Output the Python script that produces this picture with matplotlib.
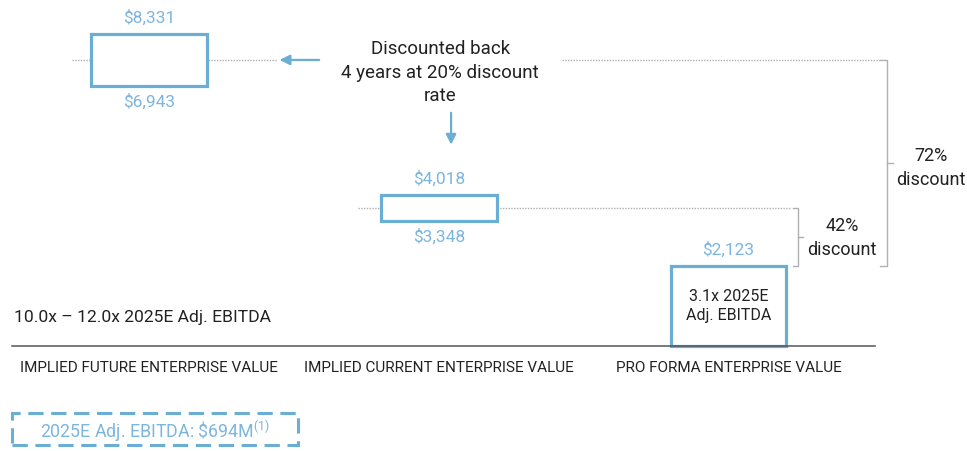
import matplotlib
matplotlib.use('Agg')
import matplotlib.pyplot as plt
from matplotlib.patches import Rectangle

plt.rcParams['font.family'] = ['Roboto', 'DejaVu Sans']
plt.rcParams['mathtext.fontset'] = 'custom'
plt.rcParams['mathtext.rm'] = 'Roboto'

BLUE = '#6aaed6'
LABEL_BLUE = '#7cb6de'
GREY = '#b0b0b0'
DARK = '#222222'

categories = ['IMPLIED FUTURE ENTERPRISE VALUE',
              'IMPLIED CURRENT ENTERPRISE VALUE',
              'PRO FORMA ENTERPRISE VALUE']
lows = [6943, 3348, 0]
highs = [8331, 4018, 2123]
discounts = ['72%\ndiscount', '42%\ndiscount']

fig = plt.figure(figsize=(9.67, 4.51), dpi=100)
ax = fig.add_axes([0, 0, 1, 1])
ax.set_xlim(-0.516, 2.824)
ax.set_ylim(-2803, 9237)
ax.axis('off')

x = list(range(len(categories)))
heights = [h - l for h, l in zip(highs, lows)]
ax.bar(x, heights, bottom=lows, width=0.40, facecolor='white',
       edgecolor=BLUE, linewidth=2.3, zorder=3)

# value labels above and below each box
for i in x:
    ax.annotate('${:,}'.format(highs[i]), (i, highs[i]), xytext=(0, 12),
                textcoords='offset points', ha='center', va='center',
                fontsize=12.5, color=LABEL_BLUE)
    if lows[i] > 0:
        ax.annotate('${:,}'.format(lows[i]), (i, lows[i]), xytext=(0, -11.5),
                    textcoords='offset points', ha='center', va='center',
                    fontsize=12.5, color=LABEL_BLUE)
    ax.annotate(categories[i], (i, 0), xytext=(0, -16),
                textcoords='offset points', ha='center', va='center',
                fontsize=11, color=DARK)

# baseline
ax.plot([-0.475, 2.506], [0, 0], color='#555555', lw=1.1, zorder=4)

mid1 = (highs[0] + lows[0]) / 2
mid2 = (highs[1] + lows[1]) / 2
top3 = highs[2]

# dotted guide lines at the box midpoints
dot = dict(color=GREY, lw=1.0, ls=(0, (1, 1)), zorder=1)
ax.plot([-0.268, 0.44], [mid1, mid1], **dot)
ax.plot([1.425, 2.523], [mid1, mid1], **dot)
ax.plot([0.72, 2.212], [mid2, mid2], **dot)

# arrows
arrow = dict(arrowstyle='-|>,head_length=0.6,head_width=0.3', color=BLUE, lw=1.6)
ax.annotate('', xy=(0.44, mid1), xytext=(0.596, mid1), arrowprops=arrow)
ax.annotate('', xy=(1.042, 5300), xytext=(1.042, 6300), arrowprops=arrow)

ax.text(1.005, 7300, 'Discounted back\n4 years at 20% discount\nrate',
        ha='center', va='center', fontsize=13.5, color=DARK, linespacing=1.42)


def bracket(xb, y_top, y_bot, left, right, text, xt, dy):
    ym = (y_top + y_bot) / 2
    ax.plot([left, xb, xb, left], [y_top, y_top, y_bot, y_bot],
            color=GREY, lw=1.0)
    ax.plot([xb, right], [ym, ym], color=GREY, lw=1.0)
    ax.text(xt, ym + dy, text, ha='center', va='center', fontsize=13,
            color=DARK, linespacing=1.42)


bracket(2.548, mid1, top3, 2.523, 2.568, discounts[0], 2.70, -130)
bracket(2.240, mid2, top3, 2.222, 2.257, discounts[1], 2.392, -30)

ax.text(2, top3 / 2, '3.1x 2025E\nAdj. EBITDA', ha='center', va='center',
        fontsize=11.5, color=DARK, linespacing=1.35)

ax.text(-0.467, 760, '10.0x \u2013 12.0x 2025E Adj. EBITDA', ha='left',
        va='center', fontsize=12.6, color=DARK)

# dashed EBITDA box
fig.add_artist(Rectangle((12 / 967, 1 - 445 / 451), 286 / 967, 32 / 451,
                         transform=fig.transFigure, fill=False, edgecolor=BLUE,
                         lw=2.2, ls=(0, (5, 2.5))))
fig.text(155 / 967, 1 - 431 / 451,
         r'2025E Adj. EBITDA: \$694M$^{\mathregular{(1)}}$',
         ha='center', va='center', fontsize=12.8, color=LABEL_BLUE)

fig.savefig('out.png', dpi=100)
